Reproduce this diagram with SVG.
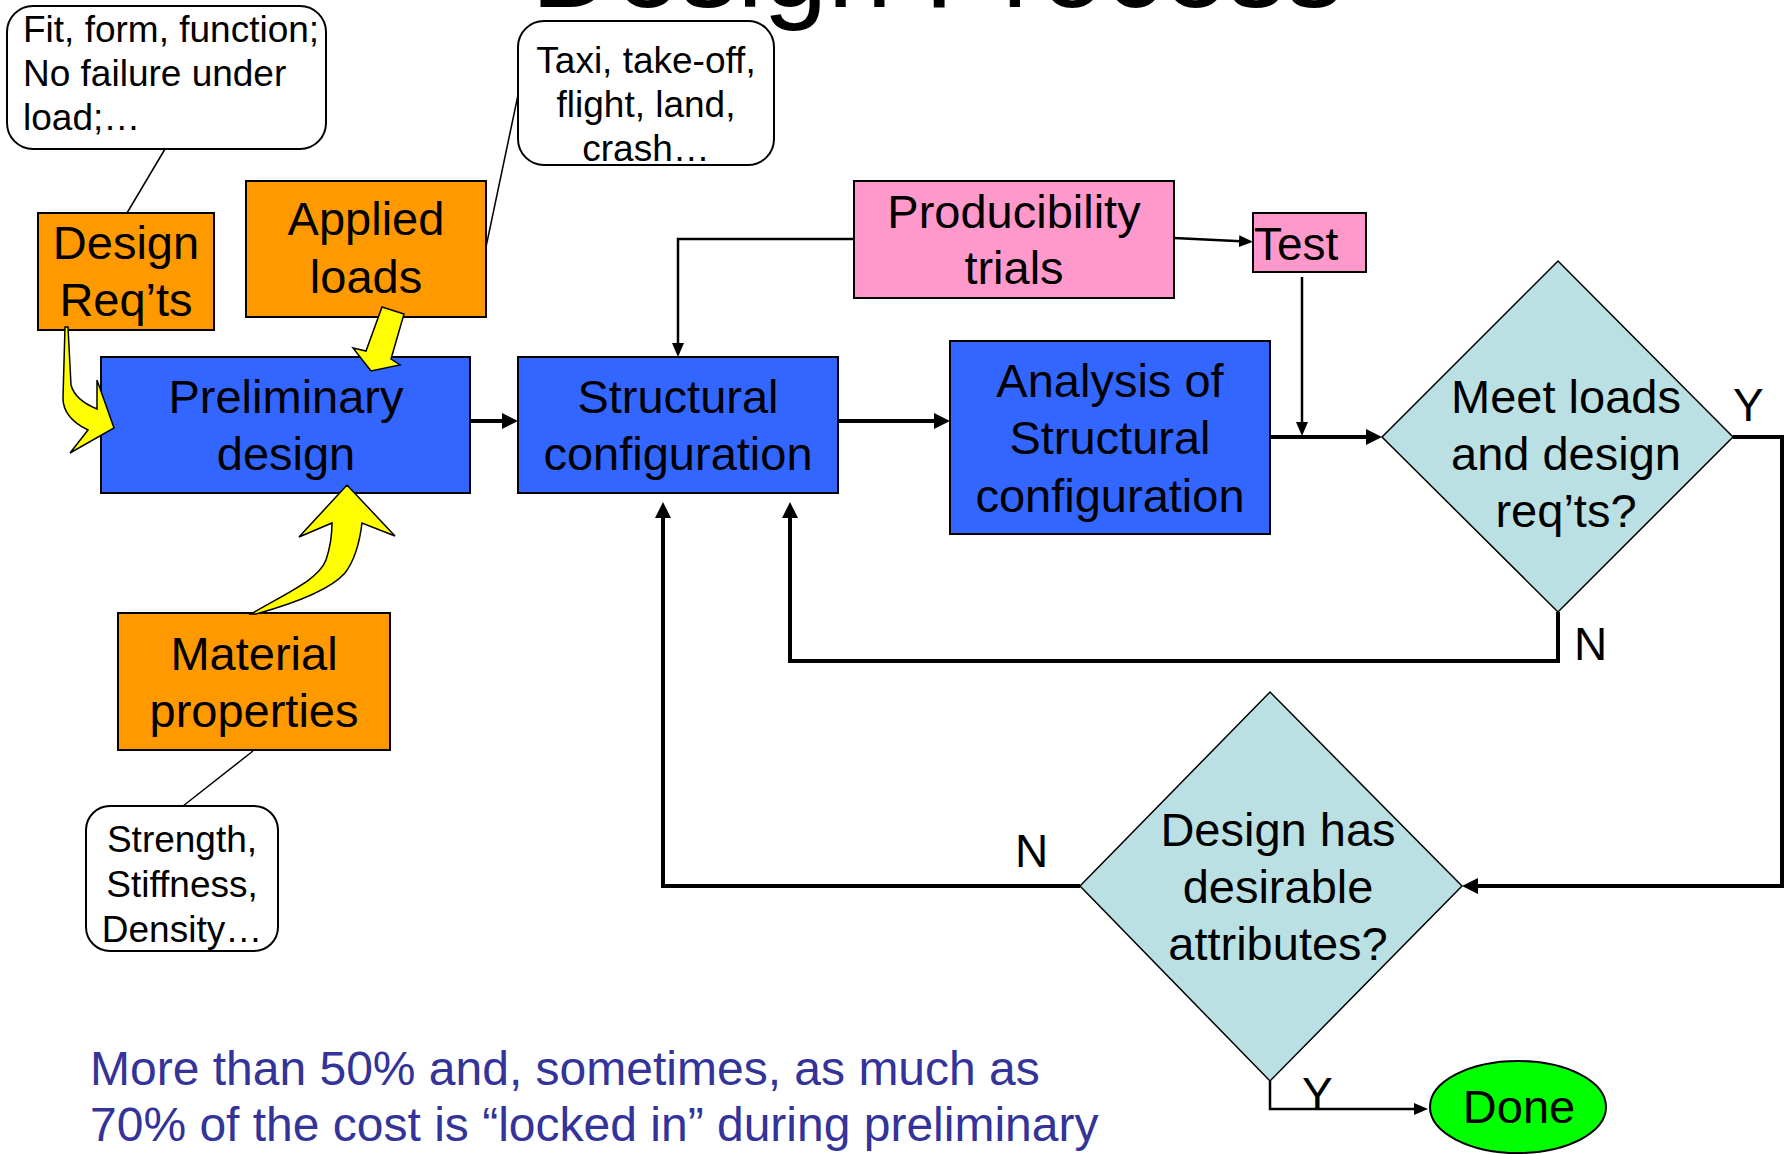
<svg xmlns="http://www.w3.org/2000/svg" width="1786" height="1154" viewBox="0 0 1786 1154">
<style>
text{font-family:"Liberation Sans",Arial,sans-serif;fill:#000}
.big{font-size:47px;text-anchor:middle}
.call{font-size:37px}
.mid{text-anchor:middle}
.box{stroke:#000;stroke-width:2}
.blue{fill:#3366FF}
.orange{fill:#FF9900}
.pink{fill:#FF99CC}
.dia{fill:#BBE0E3;stroke:#000;stroke-width:1.5}
.callout{fill:#fff;stroke:#000;stroke-width:2}
.lead{stroke:#000;stroke-width:1.5;fill:none}
.thick{stroke:#000;stroke-width:4;fill:none}
.thin{stroke:#000;stroke-width:2.5;fill:none}
.yel{fill:#FFFF00;stroke:#000;stroke-width:1.5;stroke-linejoin:miter}
</style>
<defs>
<marker id="ah" markerUnits="userSpaceOnUse" viewBox="0 0 16 16" refX="8" refY="8" markerWidth="16" markerHeight="16" orient="auto">
<path d="M0,0 L16,8 L0,16 Z" fill="#000"/>
</marker>
<marker id="as" markerUnits="userSpaceOnUse" viewBox="0 0 14 12" refX="7" refY="6" markerWidth="14" markerHeight="12" orient="auto">
<path d="M0,0 L14,6 L0,12 Z" fill="#000"/>
</marker>
</defs>

<text x="531" y="7" font-size="116">Design Process</text>

<g id="connectors">
<line class="lead" x1="165" y1="149" x2="127" y2="213"/>
<line class="lead" x1="486" y1="247" x2="518" y2="95"/>
<line class="lead" x1="253" y1="751" x2="183" y2="806"/>
<line class="thick" x1="470" y1="421" x2="510" y2="421" marker-end="url(#ah)"/>
<line class="thick" x1="838" y1="421" x2="942" y2="421" marker-end="url(#ah)"/>
<polyline class="thin" points="854,239 678,239 678,350" marker-end="url(#as)"/>
<line class="thin" x1="1174" y1="238" x2="1246" y2="241.5" marker-end="url(#as)"/>
<line class="thin" x1="1302" y1="277" x2="1302" y2="429" marker-end="url(#as)"/>
<line class="thick" x1="1270" y1="437" x2="1374" y2="437" marker-end="url(#ah)"/>
<polyline class="thick" points="1733,437 1782,437 1782,886 1470,886" marker-end="url(#ah)"/>
<polyline class="thick" points="1558,612 1558,661 790,661 790,510" marker-end="url(#ah)"/>
<polyline class="thick" points="1080,886 663,886 663,510" marker-end="url(#ah)"/>
<polyline class="thin" points="1270,1081 1270,1109 1421,1109" marker-end="url(#as)"/>
</g>

<g id="callout-fit">
<rect class="callout" x="7" y="6" width="319" height="143" rx="26"/>
<text class="call" x="23" y="42">Fit, form, function;</text>
<text class="call" x="23" y="86">No failure under</text>
<text class="call" x="23" y="130">load;…</text>
</g>

<g id="callout-taxi">
<rect class="callout" x="518" y="21" width="256" height="144" rx="26"/>
<text class="call mid" x="646" y="73">Taxi, take-off,</text>
<text class="call mid" x="646" y="117">flight, land,</text>
<text class="call mid" x="646" y="161">crash…</text>
</g>

<g id="callout-strength">
<rect class="callout" x="86" y="806" width="192" height="145" rx="24"/>
<text class="call mid" x="182" y="852">Strength,</text>
<text class="call mid" x="182" y="897">Stiffness,</text>
<text class="call mid" x="182" y="942">Density…</text>
</g>

<g id="design-reqts">
<rect class="box orange" x="38" y="213" width="176" height="117"/>
<text class="big" x="126" y="259">Design</text>
<text class="big" x="126" y="316">Req’ts</text>
</g>

<g id="applied-loads">
<rect class="box orange" x="246" y="181" width="240" height="136"/>
<text class="big" x="366" y="235">Applied</text>
<text class="big" x="366" y="293">loads</text>
</g>

<g id="preliminary-design">
<rect class="box blue" x="101" y="357" width="369" height="136"/>
<text class="big" x="286" y="413">Preliminary</text>
<text class="big" x="286" y="470">design</text>
</g>

<g id="material-properties">
<rect class="box orange" x="118" y="613" width="272" height="137"/>
<text class="big" x="254" y="670">Material</text>
<text class="big" x="254" y="727">properties</text>
</g>

<g id="structural-configuration">
<rect class="box blue" x="518" y="357" width="320" height="136"/>
<text class="big" x="678" y="413">Structural</text>
<text class="big" x="678" y="470">configuration</text>
</g>

<g id="producibility-trials">
<rect class="box pink" x="854" y="181" width="320" height="117"/>
<text class="big" x="1014" y="228">Producibility</text>
<text class="big" x="1014" y="284">trials</text>
</g>

<g id="test">
<rect class="box pink" x="1253" y="213" width="113" height="59"/>
<text x="1254" y="260" font-size="46">Test</text>
</g>

<g id="analysis">
<rect class="box blue" x="950" y="341" width="320" height="193"/>
<text class="big" x="1110" y="397">Analysis of</text>
<text class="big" x="1110" y="454">Structural</text>
<text class="big" x="1110" y="512">configuration</text>
</g>

<g id="meet-loads">
<polygon class="dia" points="1558,261 1733,437 1558,612 1382,437"/>
<text class="big" x="1566" y="413">Meet loads</text>
<text class="big" x="1566" y="470">and design</text>
<text class="big" x="1566" y="527">req’ts?</text>
</g>

<g id="design-has">
<polygon class="dia" points="1270,692 1462,886 1270,1081 1080,886"/>
<text class="big" x="1278" y="846">Design has</text>
<text class="big" x="1278" y="903">desirable</text>
<text class="big" x="1278" y="960">attributes?</text>
</g>

<g id="done">
<ellipse cx="1518" cy="1107" rx="88" ry="46" fill="#00FF00" stroke="#000" stroke-width="2"/>
<text class="big" x="1519" y="1123">Done</text>
</g>

<g id="labels">
<text x="1733" y="421" font-size="46">Y</text>
<text x="1574" y="660" font-size="46">N</text>
<text x="1015" y="867" font-size="46">N</text>
<text x="1302" y="1110" font-size="46">Y</text>
</g>

<g id="yellow-arrows">
<path class="yel" d="M65,327 L68,327 L71,385 Q75,400 97,409 L97,380 L114,428 L70,453 L88,430 Q63,418 63,398 Z"/>
<path class="yel" d="M382,307 L404,314 L391,359 L400,365 L371,371 L353,348 L366,351 Z"/>
<path class="yel" d="M251,614 C288,592 318,580 326,560 Q332,542 332,523 L299,537 L347,485 L395,536 L362,523 Q358,556 345,573 C330,590 292,604 256,614 Z"/>
</g>

<g id="note">
<text x="90" y="1085" font-size="48" style="fill:#333399">More than 50% and, sometimes, as much as</text>
<text x="90" y="1141" font-size="48" style="fill:#333399">70% of the cost is “locked in” during preliminary</text>
</g>
</svg>
